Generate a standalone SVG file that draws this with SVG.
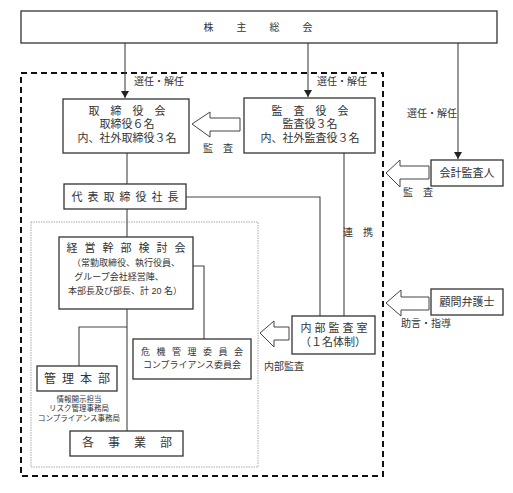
<svg xmlns="http://www.w3.org/2000/svg" width="513" height="493" viewBox="0 0 513 493">
<style>
  text { font-family: "Liberation Sans", "Noto Sans CJK JP", sans-serif; fill: #333; text-anchor: middle; dominant-baseline: central; }
  .box { fill: #fff; stroke: #333; stroke-width: 1.3; }
  .ln { fill: none; stroke: #444; stroke-width: 1.1; }
  .hollow { fill: #fff; stroke: #444; stroke-width: 1; }
  .f11 { font-size: 11px; }
  .f10 { font-size: 10px; }
  .f9 { font-size: 9px; }
  .f75 { font-size: 7.5px; }
  .f12 { font-size: 12px; }
</style>
<defs>
  <marker id="ah" markerUnits="userSpaceOnUse" markerWidth="8" markerHeight="8" refX="7" refY="4" orient="auto">
    <path d="M0,0 L7,4 L0,8 Z" fill="#222"/>
  </marker>
</defs>
<rect width="513" height="493" fill="#fff"/>

<!-- frames -->
<rect x="21" y="73" width="362" height="403" fill="none" stroke="#111" stroke-width="2" stroke-dasharray="6,4"/>
<rect x="31" y="222" width="227" height="245" fill="none" stroke="#aaa" stroke-width="1" stroke-dasharray="1.5,1"/>

<g id="connectors">
  <line class="ln" x1="125" y1="43" x2="125" y2="98" marker-end="url(#ah)"/>
  <line class="ln" x1="308" y1="43" x2="308" y2="97" marker-end="url(#ah)"/>
  <line class="ln" x1="458" y1="43" x2="458" y2="159" marker-end="url(#ah)"/>
  <line class="ln" x1="127" y1="153" x2="127" y2="184"/>
  <polyline class="ln" points="186,197 320,197 320,316"/>
  <line class="ln" x1="344" y1="153" x2="344" y2="316"/>
  <line class="ln" x1="127" y1="209" x2="127" y2="237"/>
  <polyline class="ln" points="193,266 204,266 204,339"/>
  <line class="ln" x1="127" y1="309" x2="127" y2="431"/>
  <polyline class="ln" points="127,327 79,327 79,366"/>
  <polygon class="hollow" points="192,124 210,112 210,118 240,118 240,131 210,131 210,137"/>
  <polygon class="hollow" points="386,173 400,160 400,166 429,166 429,179 400,179 400,187"/>
  <polygon class="hollow" points="386,303 401,290 401,297 429,297 429,310 401,310 401,316"/>
  <polygon class="hollow" points="260,333 274,321 274,327 289,327 289,340 274,340 274,347"/>
</g>

<!-- labels -->
<text class="f10" x="159" y="81">選任・解任</text>
<text class="f10" x="342" y="81">選任・解任</text>
<text class="f10" x="432" y="113">選任・解任</text>
<text class="f10" x="218" y="148" letter-spacing="10" dx="5">監査</text>
<text class="f10" x="418" y="192" letter-spacing="10" dx="5">監査</text>
<text class="f10" x="358" y="232" letter-spacing="10" dx="5">連携</text>
<text class="f10" x="426" y="323">助言・指導</text>
<text class="f10" x="284" y="366">内部監査</text>

<g id="shareholders">
  <rect class="box" x="21" y="11" width="476" height="32"/>
  <text class="f10" x="258" y="27" letter-spacing="23" dx="11.5">株主総会</text>
</g>

<g id="board">
  <rect class="box" x="63" y="99" width="126" height="54"/>
  <text class="f11" x="127" y="111" letter-spacing="11" dx="5.5">取締役会</text>
  <text class="f11" x="127" y="124">取締役６名</text>
  <text class="f11" x="127" y="138">内、社外取締役３名</text>
</g>

<g id="auditors">
  <rect class="box" x="244" y="98" width="131" height="55"/>
  <text class="f11" x="310" y="111" letter-spacing="11" dx="5.5">監査役会</text>
  <text class="f11" x="310" y="124">監査役３名</text>
  <text class="f11" x="310" y="138">内、社外監査役３名</text>
</g>

<g id="accounting-auditor">
  <rect class="box" x="431" y="160" width="72" height="26"/>
  <text class="f11" x="467" y="173">会計監査人</text>
</g>

<g id="president">
  <rect class="box" x="64" y="184" width="122" height="25"/>
  <text class="f11" x="125" y="197" letter-spacing="5" dx="2.5">代表取締役社長</text>
</g>

<g id="executive-committee">
  <rect class="box" x="59" y="237" width="134" height="72"/>
  <text class="f11" x="126" y="248" letter-spacing="7" dx="3.5">経営幹部検討会</text>
  <text class="f9" x="126" y="263">（常勤取締役、執行役員、</text>
  <text class="f9" x="119" y="277">グループ会社経営陣、</text>
  <text class="f9" x="125" y="291">本部長及び部長、計 20 名）</text>
</g>

<g id="legal-advisor">
  <rect class="box" x="431" y="289" width="72" height="26"/>
  <text class="f11" x="467" y="302">顧問弁護士</text>
</g>

<g id="internal-audit">
  <rect class="box" x="292" y="316" width="83" height="38"/>
  <text class="f11" x="334" y="328" letter-spacing="3" dx="1.5">内部監査室</text>
  <text class="f11" x="333" y="342">（１名体制）</text>
</g>

<g id="risk-committee">
  <rect class="box" x="133" y="339" width="118" height="40"/>
  <text class="f9" x="192" y="352" letter-spacing="6.5" dx="3.25">危機管理委員会</text>
  <text class="f9" x="192" y="365">コンプライアンス委員会</text>
</g>

<g id="admin-hq">
  <rect class="box" x="37" y="366" width="80" height="25"/>
  <text class="f12" x="77" y="379" letter-spacing="6" dx="3">管理本部</text>
  <text class="f75" x="79" y="399">情報開示担当</text>
  <text class="f75" x="79" y="408.5">リスク管理事務局</text>
  <text class="f75" x="79" y="418">コンプライアンス事務局</text>
</g>

<g id="business-units">
  <rect class="box" x="70" y="431" width="113" height="25"/>
  <text class="f12" x="127" y="443" letter-spacing="14" dx="7">各事業部</text>
</g>
</svg>
